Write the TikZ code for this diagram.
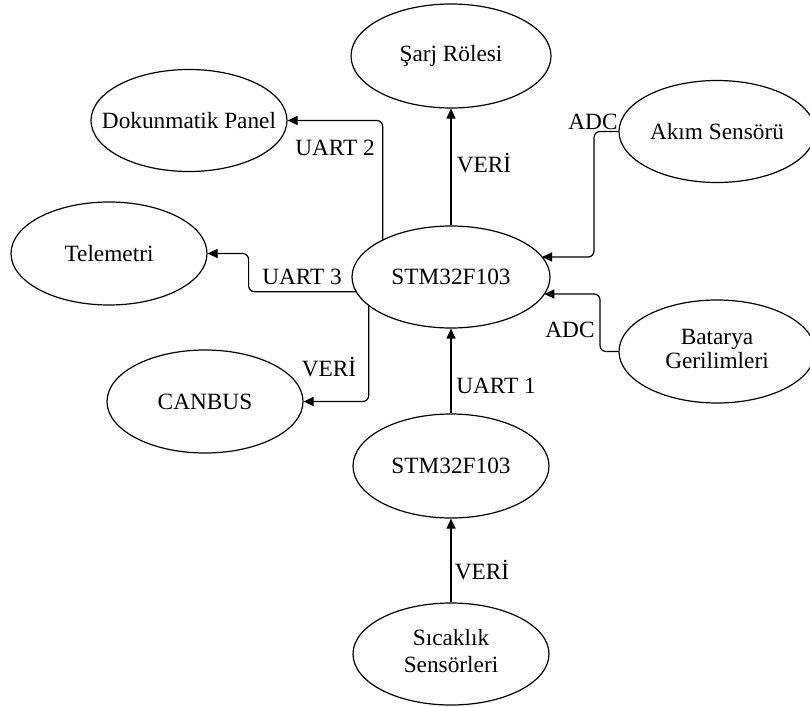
\documentclass[tikz,border=0pt]{standalone}
\usepackage{fontspec}
\setmainfont{Liberation Serif}
\usetikzlibrary{shapes.geometric,arrows.meta,calc}
\pgfdeclarelayer{background}
\pgfsetlayers{background,main}
\tikzset{
  blob/.style={ellipse, draw, line width=1.2pt, fill=white, inner sep=0pt,
    minimum width=196pt, minimum height=102pt},
  arr/.style={line width=1.2pt, rounded corners=6pt, -{Triangle[length=10pt,width=9pt]}},
  lbl/.style={inner sep=0pt}
}
\begin{document}
\begin{tikzpicture}[x=1pt,y=-1pt,font=\fontsize{23.3}{27}\selectfont]
\useasboundingbox (0,0) rectangle (810,706);
% nodes
\node[blob, minimum width=200pt, minimum height=104pt] (sarj) at (451,56) {\makebox[0pt]{Şarj Rölesi}};
\node[blob, minimum height=102pt] (dok) at (189,120.5) {\makebox[0pt]{Dokunmatik Panel}};
\node[blob] (akim) at (717,131.5) {\makebox[0pt]{Akım Sensörü}};
\node[blob, minimum height=103pt] (tel) at (109,253.5) {\makebox[0pt]{Telemetri}};
\node[blob, minimum width=198pt] (main) at (451,277) {\makebox[0pt]{STM32F103}};
\node[blob, minimum height=103pt] (bat) at (717,351.5) {\makebox[0pt]{\raisebox{-3pt}{\begin{tabular}{@{}c@{}}Batarya\\[-3pt]Gerilimleri\end{tabular}}}};
\node[blob, minimum height=103pt] (can) at (205,401.5) {\makebox[0pt]{CANBUS}};
\node[blob, minimum height=104pt] (low) at (451,466) {\makebox[0pt]{STM32F103}};
\node[blob] (sic) at (451,654) {\makebox[0pt]{\raisebox{-3pt}{\begin{tabular}{@{}c@{}}Sıcaklık\\[0pt]Sensörleri\end{tabular}}}};
% labels
\node[lbl] (l1) at (484,163) {VERİ};
\node[lbl] (l2) at (335,148) {UART 2};
\node[lbl] (l3) at (593,122) {ADC};
\node[lbl] (l4) at (302,277) {UART 3};
\node[lbl] (l5) at (570,330) {ADC};
\node[lbl] (l6) at (329,367) {VERİ};
\node[lbl] (l7) at (496,386) {UART 1};
\node[lbl] (l8) at (482,570) {VERİ};
% connectors
\begin{pgfonlayer}{background}
\draw[arr] (main) -- (sarj);
\draw[arr] ($(main.center)+(-68.3,0)$) |- (dok.east);
\draw[arr] ($(main.center)+(0,14.7)$) -| ($(tel.east)+(41,0)$) -- (tel.east);
\draw[arr] ($(main.center)+(-82.3,0)$) |- (can.east);
\draw[arr] (akim.west) -| ($(main.center)+(143,-20)$) -- ($(main.center)+(91,-20)$);
\draw[arr] (bat.west) -| ($(main.center)+(149,17)$) -- ($(main.center)+(93.3,17)$);
\draw[arr] (low) -- (main);
\draw[arr] (sic) -- (low);
\end{pgfonlayer}
\end{tikzpicture}
\end{document}
